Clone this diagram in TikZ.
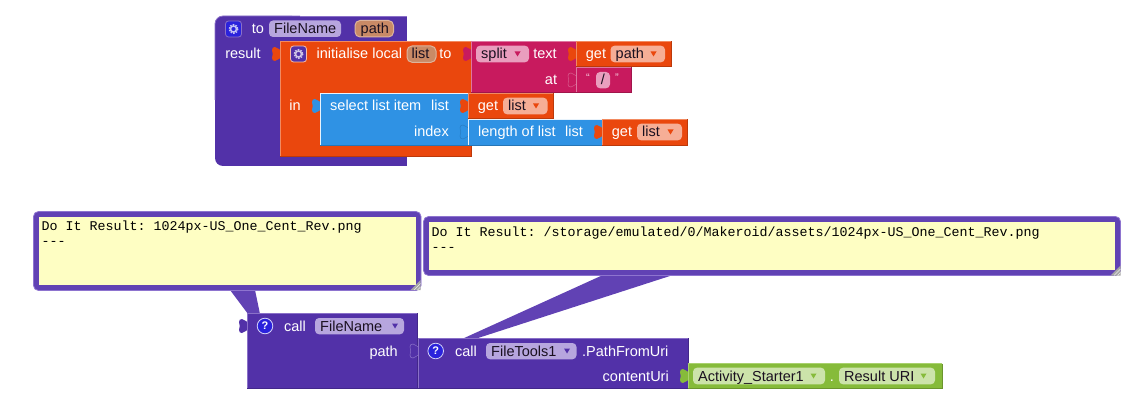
\documentclass[tikz,border=0pt]{standalone}
\usepackage{fontspec}
\setmainfont{Liberation Sans}
\setmonofont{Liberation Mono}
\definecolor{purp}{HTML}{5231A8}
\definecolor{purpL}{HTML}{8A70C8}
\definecolor{purpD}{HTML}{42278A}
\definecolor{purpF}{HTML}{B7A6DE}
\definecolor{bubB}{HTML}{6142B4}
\definecolor{bubL}{HTML}{8E74CF}
\definecolor{yel}{HTML}{FEFEC3}
\definecolor{oran}{HTML}{EA470D}
\definecolor{oranL}{HTML}{F28A60}
\definecolor{oranD}{HTML}{BC390A}
\definecolor{oranF}{HTML}{F6AE96}
\definecolor{brownF}{HTML}{C98A66}
\definecolor{brownL}{HTML}{DDB49C}
\definecolor{crim}{HTML}{C81A5E}
\definecolor{crimL}{HTML}{DE76A0}
\definecolor{crimD}{HTML}{A0154B}
\definecolor{crimF}{HTML}{E99EBE}
\definecolor{blu}{HTML}{2F92E4}
\definecolor{bluL}{HTML}{E8F3FC}
\definecolor{bluD}{HTML}{2675B6}
\definecolor{grn}{HTML}{86BB3A}
\definecolor{grnL}{HTML}{A9D16E}
\definecolor{grnD}{HTML}{6B952E}
\definecolor{grnF}{HTML}{CCE3AA}
\definecolor{icoB}{HTML}{2A22DC}
\definecolor{dk}{HTML}{1A1020}
\tikzset{
  lbl/.style={text=white,font=\fontsize{14.5}{15}\selectfont,inner sep=0pt,anchor=base},
  lblr/.style={lbl,anchor=base east},
  lbll/.style={lbl,anchor=base west},
  fldtxt/.style={text=dk,font=\fontsize{14.5}{15}\selectfont,inner sep=0pt,anchor=base west},
  mono/.style={text=black,font=\ttfamily\fontsize{13.33}{15}\selectfont,inner sep=0pt,anchor=base west},
  pics/tab/.style={code={\path[pic actions] (.4,3) .. controls (-1.5,3) and (-2.5,0) .. (-5,0)
     .. controls (-7,0) and (-8,1) .. (-8,3)
     .. controls (-7,6) and (-7,8) .. (-8,11)
     .. controls (-8,13) and (-7,14) .. (-5,14)
     .. controls (-2.5,14) and (-1.5,11) .. (.4,11);}},
  pics/gear/.style n args={2}{code={
    \fill[#1,draw=#2,line width=.8,rounded corners=3] (-8,-8) rectangle (8,8);
    \draw[white!72!#1,line width=1.6,dash pattern=on 1.45 off 1.2] (0,0) circle (4.2);
    \draw[white!72!#1,line width=1.5] (0,0) circle (3);}},
  pics/qmark/.style={code={
    \fill[icoB,draw=white!80!icoB,line width=.8] (0,0) circle (7.8);
    \node[text=white,font=\bfseries\fontsize{11}{11}\selectfont,inner sep=0pt] (#1) at (0,0) {?};}},
}
\newcommand{\blk}[7]{%
  \fill[#5] (#1,#2) rectangle (#3,#4);
  \draw[#6,line width=.8] (#1,#4)--(#1,#2)--(#3,#2);
  \draw[#7,line width=.8] (#3,#2)--(#3,#4)--(#1,#4);}
% name, x0, x1, ymid, fill, triangle colour, text
\newcommand{\fld}[7]{%
  \fill[#5,rounded corners=4] (#2,#4-8.3) rectangle (#3,#4+8.3);
  \node[fldtxt] (#1) at (#2+5,#4+5) {#7};
  \fill[#6] (#3-14.5,#4-2.5) -- (#3-8.5,#4-2.5) -- (#3-11.5,#4+2.5) -- cycle;}
\newcommand{\grip}[2]{%
  \fill[gray!70] (#1-10,#2) -- (#1,#2) -- (#1,#2-10) -- cycle;
  \draw[white!85!gray,line width=.5] (#1-6.5,#2) -- (#1,#2-6.5) (#1-3,#2) -- (#1,#2-3);}
\begin{document}
\begin{tikzpicture}[x=1pt,y=-1pt]
\useasboundingbox (0,0) rectangle (1144,417);
% --- top procedure
\fill[purp,rounded corners=8] (215,16) -- (215,166) -- (300,166) -- (300,16) -- cycle;
\fill[purp] (280,16) rectangle (407,166);
\draw[purpL,line width=.8,rounded corners=8] (300,16) -- (215,16) -- (215,100);
\draw[purpL,line width=.8] (300,16) -- (407,16);
\pic at (233.5,29) {gear={icoB}{purpL}};
\node[lbl] (to) at (258,34) {to};
\fill[purpF,rounded corners=4] (269,20.5) rectangle (341,37);
\node[fldtxt] (fname) at (274,34) {FileName};
\fill[brownF,draw=brownL,line width=1,rounded corners=5] (355,20.5) rectangle (393.5,37);
\node[fldtxt] (pathv) at (360.5,34) {path};
\node[lbl] (result) at (243,59) {result};
% --- initialise local
\pic[fill=oran] at (280,47) {tab};
\blk{280}{41}{471}{156}{oran}{oranL}{oranD}
\pic at (298.5,54) {gear={purp}{oranL!55!white}};
\node[lbll] (init) at (316.5,59) {initialise local};
\fill[brownF,draw=brownL,line width=1,rounded corners=5] (407,46) rectangle (436,62.3);
\node[fldtxt] (listv) at (411.5,59) {list};
\node[lbl] (tolbl) at (445.5,59) {to};
\node[lbl] (inlbl) at (295,111) {in};
% --- split
\pic[fill=crim] at (471,47) {tab};
\blk{471}{41.5}{576}{92.5}{crim}{crimL}{crimD}
\fld{splitf}{476}{529}{54}{crimF}{crim}{split}
\node[lbl] (textl) at (545,59) {text};
\node[lbl] (atl) at (551,85) {at};
% --- get path
\pic[fill=oran] at (576,47) {tab};
\blk{576}{41.5}{671}{66.5}{oran}{oranL}{oranD}
\node[lbl] (g1) at (596,59) {get};
\fld{gpath}{610.5}{665}{54}{oranF}{oran}{path}
% --- text block
\pic[fill=crim,draw=crimL!70!crim,line width=.5] at (576,73) {tab};
\blk{576}{67}{631}{92.5}{crim}{crimL}{crimD}
\node[lbl,font=\fontsize{11}{11}\selectfont,text=white!80!crim] (q1) at (588,82) {“};
\fill[crimF,rounded corners=4] (596,72) rectangle (610,88.3);
\node[fldtxt,anchor=base] (slash) at (603,85) {/};
\node[lbl,font=\fontsize{11}{11}\selectfont,text=white!80!crim] (q2) at (617,82) {”};
% --- select list item
\pic[fill=blu] at (320,99) {tab};
\blk{320}{93}{468}{145}{blu}{bluL}{bluD}
\node[lbll] (sel) at (330,111) {select list item};
\node[lblr] (sell) at (449,111) {list};
\node[lblr] (idx) at (449,137) {index};
% --- get list
\pic[fill=oran] at (468,99) {tab};
\blk{468}{93.5}{553.5}{118.5}{oran}{oranL}{oranD}
\node[lbl] (g2) at (488,111) {get};
\fld{gl1}{503}{547.5}{106}{oranF}{oran}{list}
% --- length of list
\pic[fill=blu,draw=bluD!70!blu,line width=.5] at (468,125) {tab};
\blk{468}{119}{602}{145}{blu}{bluL}{bluD}
\node[lbll] (len) at (478,137) {length of list};
\node[lblr] (lenl) at (583,137) {list};
\pic[fill=oran] at (602,125) {tab};
\blk{602}{119}{687.5}{145}{oran}{oranL}{oranD}
\node[lbl] (g3) at (622,137) {get};
\fld{gl2}{637}{682}{132}{oranF}{oran}{list}
% --- tails
\fill[bubB] (230,290) -- (255,290) -- (260,314) -- (248,314) -- cycle;
\fill[bubB] (603,275) -- (673,275) -- (475,339) -- (462,339) -- cycle;
% --- bubbles
\fill[bubB,draw=bubL,line width=.8,rounded corners=5] (33.5,211.5) rectangle (421,290.5);
\fill[yel] (39,217) rectangle (416,285);
\grip{420.5}{290}
\node[mono] (b1a) at (41.5,230) {Do It Result: 1024px-US\_One\_Cent\_Rev.png};
\node[mono] (b1b) at (41.5,245) {-{}-{}-};
\fill[bubB,draw=bubL,line width=.8,rounded corners=5] (423.5,216.5) rectangle (1120.5,275.5);
\fill[yel] (429,222) rectangle (1115,270);
\grip{1120.5}{275.5}
\node[mono] (b2a) at (431.5,236.5) {Do It Result: /storage/emulated/0/Makeroid/assets/1024px-US\_One\_Cent\_Rev.png};
\node[mono] (b2b) at (431.5,251.5) {-{}-{}-};
% --- call FileName
\pic[fill=purp] at (247,319) {tab};
\blk{247}{313}{417.5}{388}{purp}{purpL}{purpD}
\pic at (265,326) {qmark=q1m};
\node[lbl] (call1) at (295,331) {call};
\fill[purpF,rounded corners=4] (315,318) rectangle (404,334.3);
\node[fldtxt] (fn2) at (320,331) {FileName};
\fill[purp] (392,323.5) -- (398,323.5) -- (395,328.5) -- cycle;
\node[lblr] (pathl) at (398,356) {path};
% --- call FileTools
\pic[fill=purp,draw=purpL,line width=.5] at (418,344) {tab};
\blk{418}{338}{688}{388}{purp}{purpL}{purpD}
\pic at (435.7,351) {qmark=q2m};
\node[lbl] (call2) at (466,356) {call};
\fill[purpF,rounded corners=4] (486,343) rectangle (576.5,359.3);
\node[fldtxt] (ft) at (491,356) {FileTools1};
\fill[purp] (564,348.5) -- (570,348.5) -- (567,353.5) -- cycle;
\node[lbll] (pfu) at (582,356) {.PathFromUri};
\node[lblr] (cu) at (669,381) {contentUri};
% --- activity starter
\pic[fill=grn] at (688,369) {tab};
\blk{688}{363.5}{942}{388.5}{grn}{grnL}{grnD}
\fld{as}{693}{825}{376}{grnF}{grn}{Activity\_Starter1}
\node[lbl] (dot) at (832,381) {.};
\fld{ru}{839}{935}{376}{grnF}{grn}{Result URI}
\end{tikzpicture}
\end{document}
